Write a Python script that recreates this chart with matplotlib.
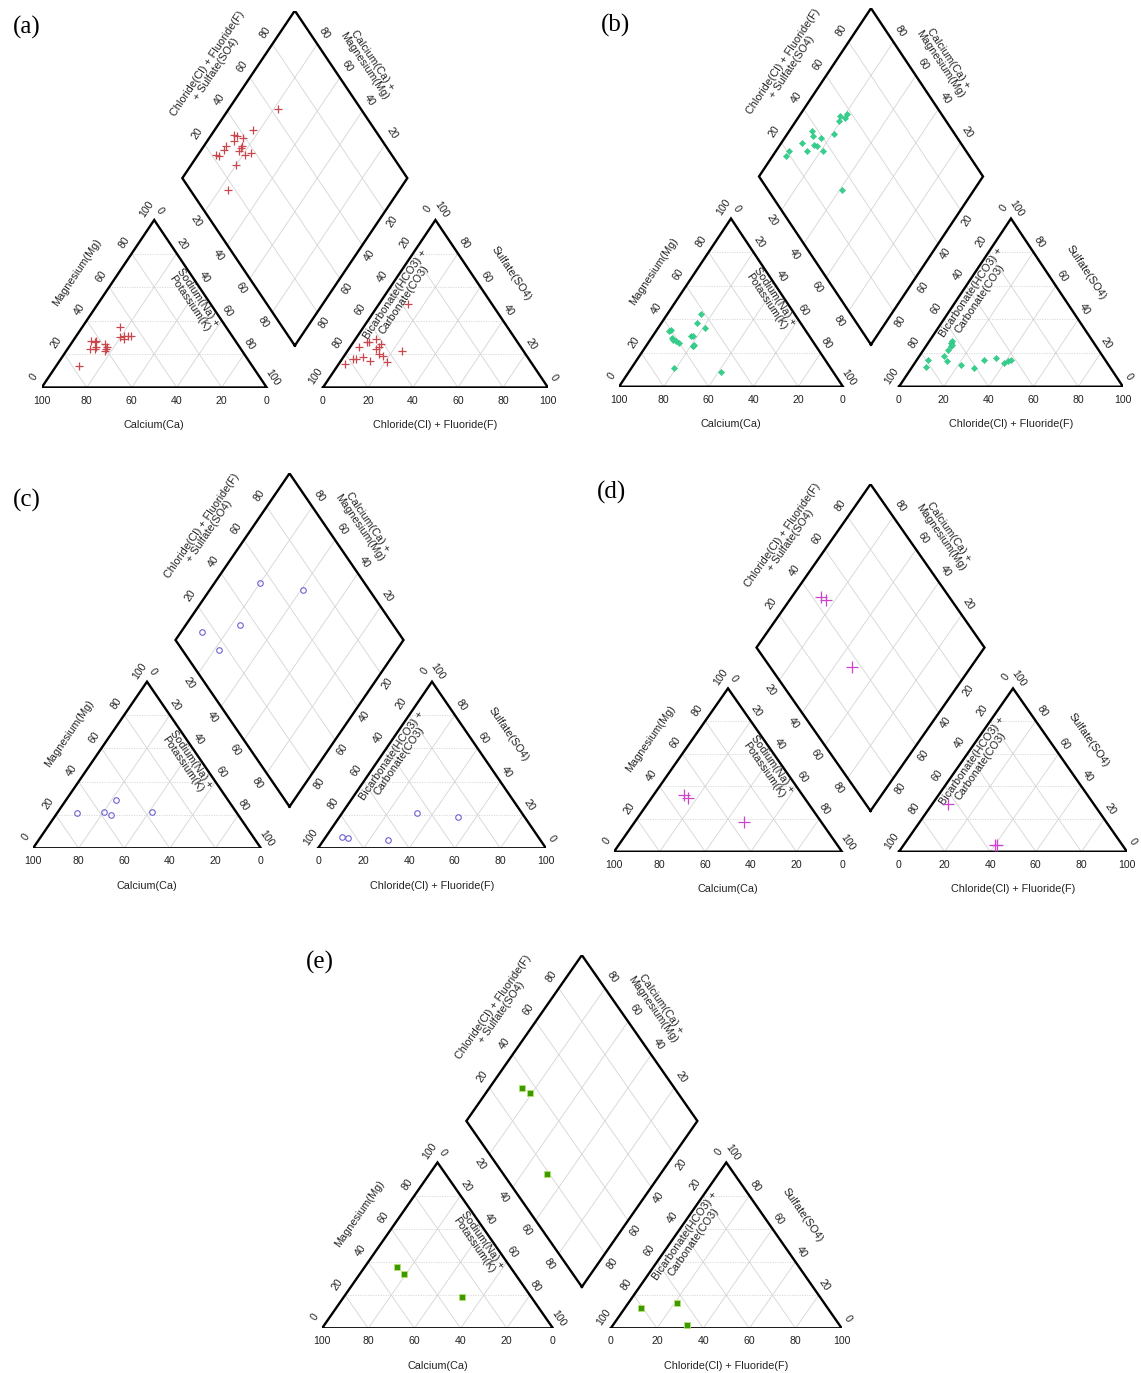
import numpy as np
import matplotlib
matplotlib.use("Agg")
import matplotlib.pyplot as plt
from matplotlib.transforms import offset_copy

plt.rcParams['font.family'] = ['Liberation Sans', 'DejaVu Sans']

# ---------------- sample compositions (percent of meq) ----------------
# cations: Ca, Mg (Na+K is the remainder); anions: Cl+F, SO4 (HCO3+CO3 is the remainder)
ca_a = [64, 63, 62, 77, 67, 65, 64, 59, 59, 61, 47, 60, 50, 48, 49, 46, 45]
mg_a = [28, 27, 28, 13, 23, 23, 24, 26, 24, 22, 36, 23, 30, 31, 29, 31, 31]
cl_a = [5, 6, 17, 13, 9, 13, 7, 13, 6, 12, 24, 21, 4, 15, 13, 9, 3]
so4_a = [17, 17, 19, 16, 18, 24, 27, 26, 27, 23, 22, 15, 24, 20, 50, 29, 14]

ca_b = [60, 61, 62, 62, 61, 60, 42, 46, 53, 70, 52, 55, 44, 55, 50, 54]
mg_b = [34, 33, 29, 28, 27, 26, 43, 38, 30, 11, 30, 24, 35, 24, 9, 25]
cl_b = [6, 5, 11, 10, 10, 14, 21, 28, 11, 35, 40, 41, 42, 30, 11, 11]
so4_b = [12, 16, 18, 27, 26, 15, 13, 11, 24, 17, 14, 15, 16, 16, 22, 25]

ca_c = [37, 70, 58, 56, 49]
mg_c = [22, 21, 22, 20, 29]
cl_c = [52, 7, 33, 28, 10]
so4_c = [19, 7, 21, 5, 6]

ca_d = [52, 51, 34]
mg_d = [35, 33, 18]
cl_d = [40, 41, 7]
so4_d = [4, 4, 29]

ca_e = [49, 48, 30]
mg_e = [37, 33, 19]
cl_e = [32, 21, 7]
so4_e = [2, 15, 12]

panel_tags = ["(a)", "(b)", "(c)", "(d)", "(e)"]
tick_vals = [0, 20, 40, 60, 80, 100]

# ---------------- Piper geometry ----------------
G = 0.25                  # gap between the two triangles
H = np.sqrt(3) / 2
W = 2 + G
TOP = (2 + G) * H
FW, FH = 1141, 1373


def cation_xy(ca, mg):
    ca = np.asarray(ca, float) / 100
    mg = np.asarray(mg, float) / 100
    na = 1 - ca - mg
    return na + mg / 2, mg * H


def anion_xy(cl, so4):
    cl = np.asarray(cl, float) / 100
    so4 = np.asarray(so4, float) / 100
    return 1 + G + cl + so4 / 2, so4 * H


def diamond_xy(ca, mg, cl, so4):
    cam = (np.asarray(ca, float) + np.asarray(mg, float)) / 100
    b = (np.asarray(cl, float) + np.asarray(so4, float)) / 100
    return 1 + G / 2 + 0.5 * (b - cam), G * H + H * (cam + b)


B = np.array([1 + G / 2, G * H])
L = B + np.array([-0.5, H])
R = B + np.array([0.5, H])
T = B + np.array([0.0, 2 * H])

GRID = "#d4d4d4"
TXT = "#222222"


def draw_panel(fig, x0, yb, sx, sy, tag, tagpos, ca, mg, cl, so4, mk):
    ax = fig.add_axes([x0 / FW, 1 - yb / FH, W * sx / FW, TOP * sy / FH])
    ax.set_xlim(0, W)
    ax.set_ylim(0, TOP)
    ax.axis("off")
    ang = np.degrees(np.arctan2(H * sy, 0.5 * sx))

    def off(dx, dy):
        return offset_copy(ax.transData, fig=fig, x=dx, y=dy, units="dots")

    def unit_px(p0, p1):
        v = np.array([(p1[0] - p0[0]) * sx, (p1[1] - p0[1]) * sy])
        return v / np.hypot(*v)

    def edge_label(p0, p1, f, dist, text, rot):
        p0 = np.asarray(p0); p1 = np.asarray(p1)
        p = p0 + f * (p1 - p0)
        t = unit_px(p0, p1)
        n = np.array([-t[1], t[0]])
        ax.text(p[0], p[1], text, rotation=rot, ha="center", va="center",
                fontsize=7.8, color=TXT, linespacing=1.0,
                transform=off(n[0] * dist, n[1] * dist), clip_on=False)

    lw_g = 0.6
    # --- triangle grids ---
    for base in (0.0, 1 + G):
        for t in (0.2, 0.4, 0.6, 0.8):
            ax.plot([base + t / 2, base + 1 - t / 2], [t * H, t * H], color=GRID,
                    lw=lw_g, ls=(0, (1.5, 1.5)), zorder=1)
            ax.plot([base + t, base + t + (1 - t) / 2], [0, (1 - t) * H], color=GRID, lw=lw_g, zorder=1)
            ax.plot([base + 1 - t, base + (1 - t) / 2], [0, (1 - t) * H], color=GRID, lw=lw_g, zorder=1)
    # --- diamond grid ---
    for t in (0.2, 0.4, 0.6, 0.8):
        p0 = B + t * (L - B); p1 = p0 + (R - B)
        ax.plot([p0[0], p1[0]], [p0[1], p1[1]], color=GRID, lw=lw_g, zorder=1)
        p0 = B + t * (R - B); p1 = p0 + (L - B)
        ax.plot([p0[0], p1[0]], [p0[1], p1[1]], color=GRID, lw=lw_g, zorder=1)

    # --- outlines ---
    ol = dict(color="black", lw=1.7, solid_joinstyle="miter", zorder=3)
    ax.plot([0, 1, 0.5, 0], [0, 0, H, 0], **ol)
    ax.plot([1 + G, 2 + G, 1.5 + G, 1 + G], [0, 0, H, 0], **ol)
    ax.plot([B[0], R[0], T[0], L[0], B[0]], [B[1], R[1], T[1], L[1], B[1]], **ol)

    tk = dict(fontsize=7.6, color=TXT, ha="center", va="center", clip_on=False)
    for v in tick_vals:
        f = v / 100
        s = str(v)
        # cation triangle
        ax.text(1 - f, 0, s, transform=off(0, -13), **tk)
        ax.text(f / 2, f * H, s, rotation=ang, transform=off(-7.5, 11), **tk)
        ax.text(0.5 + f / 2, (1 - f) * H, s, rotation=-ang, transform=off(5.5, 9.5), **tk)
        # anion triangle
        ax.text(1 + G + f, 0, s, transform=off(0, -13), **tk)
        ax.text(1 + G + (1 - f) / 2, (1 - f) * H, s, rotation=ang, transform=off(-7.5, 11), **tk)
        ax.text(2 + G - f / 2, f * H, s, rotation=-ang, transform=off(6, 10), **tk)
    for v in (20, 40, 60, 80):
        f = v / 100
        s = str(v)
        p = L + f * (R - B)
        ax.text(p[0], p[1], s, rotation=ang, transform=off(-7.5, 11.5), **tk)
        p = R + f * (L - B)
        ax.text(p[0], p[1], s, rotation=-ang, transform=off(7, 11), **tk)
        p = B + (1 - f) * (L - B)
        ax.text(p[0], p[1], s, rotation=-ang, transform=off(-9, -10), **tk)
        p = B + (1 - f) * (R - B)
        ax.text(p[0], p[1], s, rotation=ang, transform=off(7, -10), **tk)

    # --- axis titles ---
    ttl = dict(fontsize=7.8, color=TXT, ha="center", va="center", clip_on=False)
    ax.text(0.5, 0, "Calcium(Ca)", transform=off(0, -37.5), **ttl)
    ax.text(1.5 + G, 0, "Chloride(Cl) + Fluoride(F)", transform=off(0, -37.5), **ttl)
    edge_label((0, 0), (0.5, H), 0.57, 35, "Magnesium(Mg)", ang)
    edge_label((0.5, H), (1, 0), 0.44, -12, "Sodium(Na) +\nPotassium(K)", -ang)
    edge_label((1 + G, 0), (1.5 + G, H), 0.585, -13, "Bicarbonate(HCO3) +\nCarbonate(CO3)", ang)
    edge_label((1.5 + G, H), (2 + G, 0), 0.43, 33, "Sulfate(SO4)", -ang)
    edge_label(L, T, 0.54, 38, "Chloride(Cl) + Fluoride(F)\n+ Sulfate(SO4)", ang)
    edge_label(T, R, 0.42, 32, "Calcium(Ca) +\nMagnesium(Mg)", -ang)

    # --- samples ---
    for fn, args in ((cation_xy, (ca, mg)), (anion_xy, (cl, so4)),
                     (diamond_xy, (ca, mg, cl, so4))):
        x, y = fn(*args)
        ax.plot(x, y, ls="none", zorder=4, clip_on=False, **mk)

    fig.text(tagpos[0] / FW, 1 - tagpos[1] / FH, tag, fontsize=18,
             family=["Liberation Serif", "DejaVu Serif"], ha="center", va="center")


fig = plt.figure(figsize=(FW / 100, FH / 100), dpi=100)
fig.patch.set_facecolor("white")

mk_a = dict(marker="+", ms=5.5, mew=0.9, color="#c9474c")
mk_b = dict(marker="D", ms=3.2, mew=0.3, color="#35d08c", mec="#2fc082")
mk_c = dict(marker="o", ms=4.0, mew=0.8, mfc="none", mec="#6c62d0")
mk_d = dict(marker="+", ms=8, mew=0.9, color="#cc44cc")
mk_e = dict(marker="s", ms=4.0, mew=0.6, mfc="#3a9a00", mec="#b8e070")

draw_panel(fig, 41.7, 387.5, 225, 193.4, panel_tags[0], (27, 27), ca_a, mg_a, cl_a, so4_a, mk_a)
draw_panel(fig, 619, 386.7, 224, 194.2, panel_tags[1], (616, 25), ca_b, mg_b, cl_b, so4_b, mk_b)
draw_panel(fig, 33, 848.3, 228, 192.4, panel_tags[2], (27, 500), ca_c, mg_c, cl_c, so4_c, mk_c)
draw_panel(fig, 614, 851.7, 228, 188.6, panel_tags[3], (611, 492), ca_d, mg_d, cl_d, so4_d, mk_d)
draw_panel(fig, 322, 1328.3, 231, 191.5, panel_tags[4], (320, 962), ca_e, mg_e, cl_e, so4_e, mk_e)

fig.savefig("out.png", dpi=100, facecolor="white")
